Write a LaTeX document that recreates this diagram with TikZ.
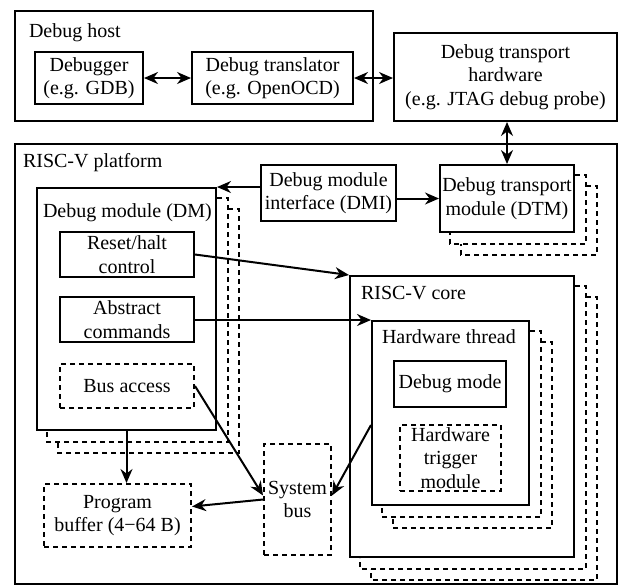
\documentclass[tikz,border=0pt]{standalone}
\usepackage{fontspec}
\setmainfont{Liberation Serif}
\usetikzlibrary{arrows.meta,calc}

\begin{document}
\begin{tikzpicture}[x=0.5pt, y=-0.5pt, line width=1pt, font=\fontsize{10}{11.7}\selectfont,
        blk/.style={draw, inner sep=0pt, align=center},
        dblk/.style={blk, dash pattern=on 2.5pt off 2pt},
        stackline/.style={dash pattern=on 2.5pt off 2pt},
        lbl/.style={anchor=base west, inner sep=0pt},
        arr/.style={-{Stealth[length=7pt,width=6pt]}},
        darr/.style={{Stealth[length=7pt,width=6pt]}-{Stealth[length=7pt,width=6pt]}}]
    \useasboundingbox (0,0) rectangle (620,585);
    % host side
    \node[blk, minimum width=179pt, minimum height=55pt] (host) at (194,66) {};
    \node[lbl] (hostlbl) at (28,37) {Debug host};
    \node[blk, minimum width=54pt, minimum height=26pt] (gdb) at (89,78) {Debugger\\(e.g. GDB)};
    \node[blk, minimum width=80.5pt, minimum height=26pt] (ocd) at (272.5,78) {Debug translator\\ (e.g. OpenOCD)};
    \node[blk, minimum width=111.5pt, minimum height=44pt] (probe) at (505.5,77) {Debug transport\\hardware\\(e.g. JTAG debug probe)};
    % platform
    \node[blk, minimum width=301pt, minimum height=220pt] (platform) at (316,364) {};
    \node[lbl] (platlbl) at (22,167) {RISC-V platform};
    \node[blk, minimum width=67.5pt, minimum height=28pt] (dmi) at (328.5,193) {Debug module\\interface (DMI)};
    \node[blk, minimum width=67pt, minimum height=33.5pt] (dtm) at (507,198.5) {Debug transport\\module (DTM)};
    \node[blk, minimum width=89.5pt, minimum height=121pt] (dm) at (126.5,309) {};
    \node[lbl] (dmlbl) at (42,217) {Debug module (DM)};
    \node[blk, minimum width=67pt, minimum height=22.5pt] (reset) at (127,254.5) {Reset/halt\\control};
    \node[blk, minimum width=67pt, minimum height=22.5pt] (abscmd) at (127,319.5) {Abstract\\commands};
    \node[dblk, minimum width=67pt, minimum height=22pt] (busacc) at (127,386) {Bus access};
    \node[blk, minimum width=112pt, minimum height=140.5pt] (core) at (462,416.5) {};
    \node[lbl] (corelbl) at (360,299) {RISC-V core};
    \node[blk, minimum width=78.5pt, minimum height=92pt] (thread) at (450.5,413) {};
    \node[lbl] (threadlbl) at (381,343) {Hardware thread};
    \node[blk, minimum width=56pt, minimum height=23pt] (dbgmode) at (450,384) {Debug mode};
    \node[dblk, minimum width=50.5pt, minimum height=33pt] (trigger) at (450.5,458) {Hardware\\trigger\\module};
    \node[dblk, minimum width=33.5pt, minimum height=55.5pt] (sysbus) at (297.5,499.5) {System\\bus};
    \node[dblk, minimum width=73.5pt, minimum height=31.5pt] (progbuf) at (117.5,515.5) {Program\\buffer (4\char"2212 64 B)};
    % stacked copies
    \foreach \n in {dtm,dm,core,thread}
        \foreach \k in {1,2}
            \draw[stackline] ($(\n.north east)+(11*\k-11,11*\k)$) -- ++(11,0)
                |- ($(\n.south west)+(11*\k,11*\k)$) -- ++(0,-11);
    % connectors
    \draw[darr] (gdb) -- (ocd);
    \draw[darr] (ocd.east) -- (ocd.east -| probe.west);
    \draw[darr] (dtm.north |- probe.south) -- (dtm.north);
    \draw[arr] (dmi.west |- dm.north east) -- (dm.north east);
    \draw[arr] (dmi.east |- dtm.west) -- (dtm.west);
    \draw[arr] (reset.east) -- (core.north west);
    \draw[arr] (abscmd.east |- thread.north west) -- (thread.north west);
    \draw[arr] (dm.south) -- (dm.south |- progbuf.north);
    \draw[arr] (busacc.east) -- ([yshift=2pt]sysbus.west);
    \draw[arr] ([yshift=-6pt]thread.west) -- ([yshift=2pt]sysbus.east);
    \draw[arr] (sysbus.west) -- ([yshift=4.5pt]progbuf.east);
\end{tikzpicture}
\end{document}
